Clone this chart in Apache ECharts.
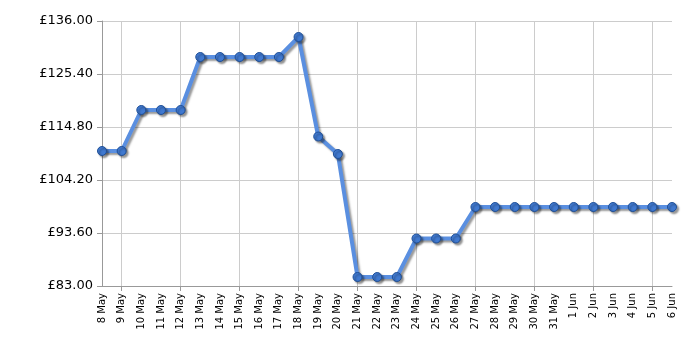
<!DOCTYPE html>
<html><head><meta charset="utf-8">
<script src="https://cdn.jsdelivr.net/npm/echarts@6/dist/echarts.min.js"></script>
<style>html,body{margin:0;padding:0;background:#fff}#c{width:700px;height:350px}</style>
</head><body><div id="c"></div>
<script>
var categories = ['8 May','9 May','10 May','11 May','12 May','13 May','14 May','15 May','16 May','17 May','18 May','19 May','20 May','21 May','22 May','23 May','24 May','25 May','26 May','27 May','28 May','29 May','30 May','31 May','1 Jun','2 Jun','3 Jun','4 Jun','5 Jun','6 Jun'];
var prices = [110.0,110.0,118.2,118.2,118.2,128.8,128.8,128.8,128.8,128.8,132.8,112.9,109.4,84.8,84.8,84.8,92.5,92.5,92.5,98.8,98.8,98.8,98.8,98.8,98.8,98.8,98.8,98.8,98.8,98.8];
var yMin = 83, yMax = 136, yStep = 10.6;

var chart = echarts.init(document.getElementById('c'));
var every3 = function (i) { return (i - 1) % 3 === 0; };
chart.setOption({
  animation: false,
  grid: { left: 102, right: 28, top: 21, bottom: 64, containLabel: false },
  xAxis: {
    type: 'category', data: categories, boundaryGap: false,
    axisLine: { lineStyle: { color: '#999', width: 1 } },
    axisTick: { show: true, interval: every3, length: 5, lineStyle: { color: '#999' } },
    splitLine: { show: true, interval: every3, lineStyle: { color: '#ccc', width: 1 } },
    axisLabel: { interval: 0, rotate: 90, fontSize: 10, color: '#000', fontFamily: 'DejaVu Sans', margin: 7 }
  },
  yAxis: {
    type: 'value', min: yMin, max: yMax, interval: yStep,
    axisLine: { show: true, lineStyle: { color: '#999', width: 1 } },
    axisTick: { show: true, length: 5, lineStyle: { color: '#999' } },
    splitLine: { show: true, lineStyle: { color: '#ccc', width: 1 } },
    axisLabel: { fontSize: 13, color: '#000', fontFamily: 'DejaVu Sans', margin: 9,
      formatter: function (v) { return '£' + v.toFixed(2); } }
  },
  series: [{
    type: 'line', data: prices,
    symbol: 'circle', symbolSize: 9,
    lineStyle: { color: '#5a8fe0', width: 4, shadowColor: 'rgba(0,0,0,0.4)', shadowBlur: 2, shadowOffsetX: 2, shadowOffsetY: 2 },
    itemStyle: { color: '#4079d0', borderColor: '#1f4f96', borderWidth: 1, shadowColor: 'rgba(0,0,0,0.4)', shadowBlur: 2, shadowOffsetX: 2, shadowOffsetY: 2 }
  }]
});
</script></body></html>
